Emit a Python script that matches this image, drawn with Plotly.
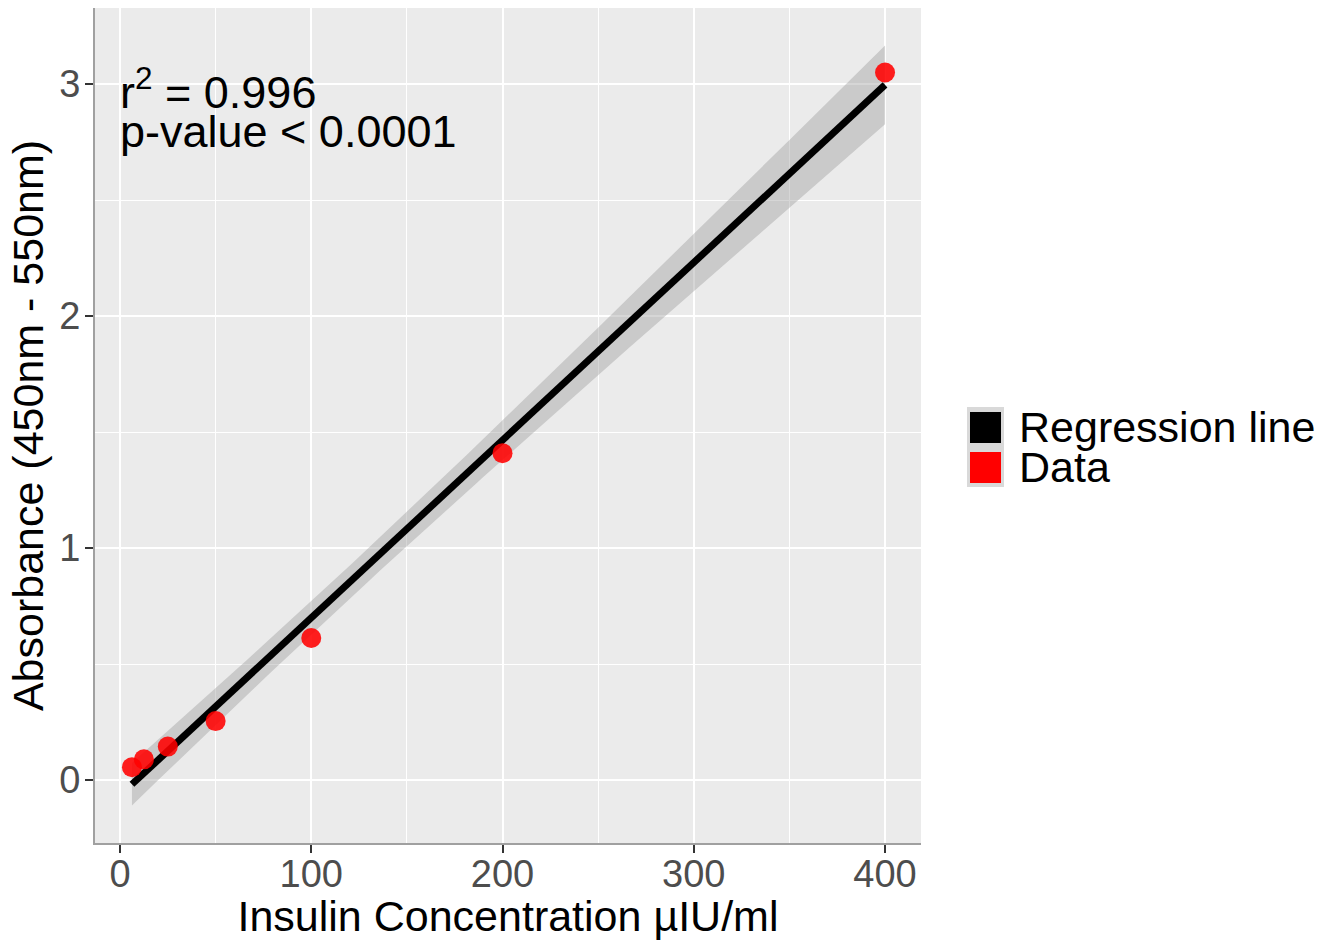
import numpy as np
import plotly.graph_objects as go

# ---- data ----
conc = [6.25, 12.5, 25, 50, 100, 200, 400]
absorb = [0.055, 0.089, 0.144, 0.254, 0.612, 1.409, 3.05]
x_ticks = [0, 100, 200, 300, 400]
y_ticks = [0, 1, 2, 3]
legend_labels = ["Regression line", "Data"]
r2_text = "r<sup>2</sup> = 0.996"
p_text = "p-value < 0.0001"

# ---- linear fit with 95% CI (like geom_smooth(method="lm")) ----
x = np.array(conc, dtype=float)
y = np.array(absorb, dtype=float)
n = len(x)
slope, intercept = np.polyfit(x, y, 1)
xg = np.linspace(x.min(), x.max(), 80)
yg = intercept + slope * xg
resid = y - (intercept + slope * x)
s = np.sqrt(np.sum(resid ** 2) / (n - 2))
sxx = np.sum((x - x.mean()) ** 2)
se = s * np.sqrt(1 / n + (xg - x.mean()) ** 2 / sxx)
tval = 2.570582  # t(0.975, df=5)
lo = yg - tval * se
hi = yg + tval * se

FONT = "Liberation Sans, Arial, sans-serif"

fig = go.Figure()
fig.add_trace(go.Scatter(x=np.concatenate([xg, xg[::-1]]), y=np.concatenate([hi, lo[::-1]]),
                         fill="toself", fillcolor="rgba(153,153,153,0.4)", line=dict(width=0),
                         mode="lines", showlegend=False, hoverinfo="skip"))
fig.add_trace(go.Scatter(x=xg, y=yg, mode="lines", line=dict(color="black", width=7),
                         showlegend=False, name=legend_labels[0]))
fig.add_trace(go.Scatter(x=conc, y=absorb, mode="markers",
                         marker=dict(color="rgba(255,0,0,0.88)", size=20, line=dict(width=0)),
                         showlegend=False, name=legend_labels[1]))

L, R, T, B = 95, 410, 8, 97
W, H = 1331, 940
pw, ph = W - L - R, H - T - B


def px(xp):
    return (xp - L) / pw


def py(yp):
    return (H - B - yp) / ph


shapes = [
    dict(type="rect", xref="paper", yref="paper", x0=px(967), x1=px(1004), y0=py(407), y1=py(487),
         fillcolor="#D9D9D9", line=dict(width=0), layer="above"),
    dict(type="rect", xref="paper", yref="paper", x0=px(970), x1=px(1001), y0=py(412), y1=py(443),
         fillcolor="black", line=dict(width=0), layer="above"),
    dict(type="rect", xref="paper", yref="paper", x0=px(970), x1=px(1001), y0=py(452), y1=py(483),
         fillcolor="red", line=dict(width=0), layer="above"),
]

annotations = [
    dict(text=legend_labels[0], xref="paper", yref="paper", x=px(1017), y=py(427),
         xanchor="left", yanchor="middle", showarrow=False, font=dict(size=43, color="black", family=FONT)),
    dict(text=legend_labels[1], xref="paper", yref="paper", x=px(1017), y=py(467),
         xanchor="left", yanchor="middle", showarrow=False, font=dict(size=43, color="black", family=FONT)),
    dict(text=r2_text, xref="x", yref="paper", x=0, y=py(89), xanchor="left", yanchor="middle",
         xshift=-2, showarrow=False, font=dict(size=45, color="black", family=FONT)),
    dict(text=p_text, xref="x", yref="paper", x=0, y=py(131), xanchor="left", yanchor="middle",
         xshift=-2, showarrow=False, font=dict(size=45, color="black", family=FONT)),
]

axis_common = dict(
    showgrid=True, gridcolor="white", gridwidth=2.2,
    ticks="outside", ticklen=8, tickwidth=2, tickcolor="#333333",
    showline=True, linecolor="#A0A0A0", linewidth=2,
    zeroline=False, automargin=False,
    tickfont=dict(size=38, color="#4D4D4D", family=FONT),
)

fig.update_layout(
    width=W, height=H,
    margin=dict(l=L, r=R, t=T, b=B),
    paper_bgcolor="white", plot_bgcolor="#EBEBEB",
    font=dict(family=FONT),
    xaxis=dict(axis_common, range=[-13.07, 418.8], tickvals=x_ticks, ticklabelstandoff=-12,
               minor=dict(showgrid=True, gridcolor="white", gridwidth=1.1, tickvals=[50, 150, 250, 350]),
               title=dict(text="Insulin Concentration µIU/ml", font=dict(size=43, color="black", family=FONT),
                          standoff=2)),
    yaxis=dict(axis_common, range=[-0.2716, 3.328], tickvals=y_ticks, ticklabelstandoff=-3,
               minor=dict(showgrid=True, gridcolor="white", gridwidth=1.1, tickvals=[0.5, 1.5, 2.5]),
               title=dict(text="Absorbance (450nm - 550nm)", font=dict(size=43, color="black", family=FONT),
                          standoff=2)),
    shapes=shapes, annotations=annotations, showlegend=False,
)

fig.write_html("out.html")
